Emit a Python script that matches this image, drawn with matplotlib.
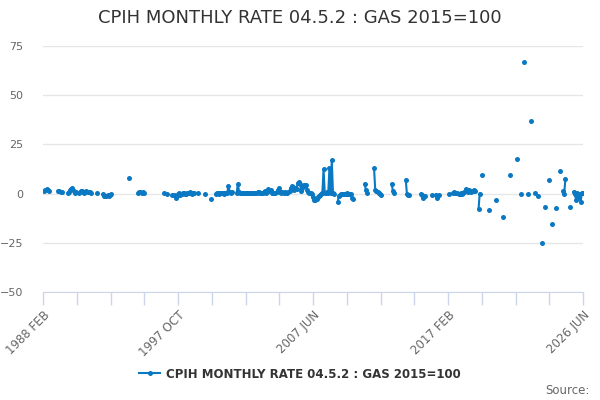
import numpy as np
import matplotlib
matplotlib.use("Agg")
import matplotlib.pyplot as plt

title = "CPIH MONTHLY RATE 04.5.2 : GAS 2015=100"
tick_labels = ["1988 FEB", "1997 OCT", "2007 JUN", "2017 FEB", "2026 JUN"]
n_periods = 461

# runs of consecutive periods: (first period index, monthly rates)
seg_start = [1, 13, 21, 31, 46, 51, 73, 81, 103, 106, 110, 112,
             132, 138, 143, 147, 165, 251, 274, 282, 297, 309,
             322, 331, 335, 346, 349, 371, 374, 380, 386, 392,
             398, 404, 407, 410, 413, 416, 419, 422, 425, 428,
             431, 434, 437, 440, 443, 449, 452]
seg_values = [
    [1.5, 1.8, 2.2, 1.8, 1.2],
    [1.2, 1.5, 1.0, 0.8],
    [0.3, 1.0, 1.8, 2.5, 3.0, 1.2, 0.5, 0.8],
    [0.5, 1.5, 1.2, 0.8, 0.5, 1.0, 1.2, 0.8, 1.0, 0.6, 0.4],
    [0.3],
    [-0.3, -1.0, -1.2, -1.0, -0.8, -1.0, -0.6, -0.3],
    [8.0],
    [0.5, 0.8, 1.0, 0.5, 0.7, 0.3],
    [0.2],
    [0.0],
    [-0.8],
    [-0.5, -2.0, -1.2, 0.0, 0.3, -0.5, 0.0, 0.3, 0.5, 0.0, -0.3, 0.2,
     0.5, 0.8, 0.3, 0.0, 0.5, 0.2],
    [0.5],
    [0.0],
    [-2.5],
    [0.0, 0.3, 0.5, 0.0, 0.2, 0.5, 0.3, 0.0, 0.5, 0.2, 0.5,
     4.0, 1.0, 0.5, 0.8],
    [0.5, 5.0, 1.0, 0.5, 0.5, 0.3, 0.5, 0.5, 0.3, 0.5, 0.5, 0.3, 0.2,
     0.5, 0.5, 0.3, 0.5,
     0.5, 1.0, 0.8, 0.5, 0.3, 0.5, 1.0, 1.5, 0.5, 0.8, 2.5, 1.5, 2.0, 0.5,
     0.5, 0.3, 0.5, 1.0, 2.0, 3.0, 1.0, 0.5, 0.8, 0.5, 1.0, 0.5, 0.5, 0.8,
     1.5, 3.0, 4.0, 3.5, 2.0, 3.0, 2.5, 5.5, 6.0, 5.0, 1.5, 3.0, 4.5, 4.0, 4.5,
     2.0, 1.0, 0.5, 0.5, 0.0, -1.5, -3.0, -3.0, -2.5, -1.5, -1.0, -0.5, 0.0, 0.5,
     12.5, 0.5, 0.5, 1.0, 0.5, 13.0, 0.5, 17.0, 0.5, 0.0],
    [-4.5, -1.0, -0.5, 0.0, -0.3, 0.0, 0.0, 0.0, 0.2, 0.0, 0.0, 0.0, -2.0, -2.5],
    [5.0, 2.0, 0.5],
    [13.0, 2.0, 1.5, 1.0, 0.5, 0.0, -0.5],
    [5.0, 1.5, 0.5],
    [7.0, 0.0, -0.5, -0.5],
    [0.0, -0.5, -2.0, -1.0],
    [-0.8],
    [-0.5, -2.0, -0.8],
    [-0.3],
    [0.5, 0.8, 0.5, 0.3, 0.5, 0.0, 0.0, 0.2, 0.0, 0.5, 1.0, 2.5, 1.5, 1.0,
     2.0, 1.5, 1.0, 1.5, 2.0, 1.5],
    [-8.0, 0.0],
    [9.5],
    [-8.5],
    [-3.0],
    [-12.0],
    [9.5],
    [17.5],
    [0.0],
    [67.0],
    [0.0],
    [37.0],
    [0.5],
    [-1.0],
    [-25.0],
    [-7.0],
    [7.0],
    [-15.5],
    [-7.5],
    [11.5],
    [1.5, 0.0, 7.5],
    [-7.0],
    [1.0, 0.0, -3.0, 0.5, -2.0, 0.0, -4.5, 0.5, 0.5],
]

rate = np.full(n_periods, np.nan)
for s, vals in zip(seg_start, seg_values):
    rate[s:s + len(vals)] = vals
x = np.arange(n_periods)

blue = "#0a78c2"
fig = plt.figure(figsize=(6, 4), dpi=100)
ax = fig.add_axes([43 / 600, 108 / 400, 540 / 600, 246 / 400])

ax.plot(x, rate, color=blue, lw=1.5, marker="o", ms=3.6, mew=0,
        label=title, zorder=3)

ax.set_xlim(0, n_periods - 1)
ax.set_ylim(-50, 75)
ax.set_yticks([-50, -25, 0, 25, 50, 75])
ax.grid(axis="y", color="#e6e6e6", lw=1)
ax.set_axisbelow(True)

major = np.linspace(0, n_periods - 1, 5)
ax.set_xticks(major)
ax.set_xticklabels(tick_labels, rotation=45, ha="right", rotation_mode="anchor")
ax.set_xticks(np.linspace(0, n_periods - 1, 17), minor=True)
ax.tick_params(axis="x", which="both", length=9, width=1, color="#ccd6eb",
               labelsize=8.5, labelcolor="#666666", pad=3)
ax.tick_params(axis="y", length=0, labelsize=8, labelcolor="#666666", pad=14)

for side in ["top", "right", "left"]:
    ax.spines[side].set_visible(False)
ax.spines["bottom"].set_color("#ccd6eb")

fig.text(0.5, 1 - 18 / 400, title, ha="center", va="center",
         fontsize=13, color="#333333")
fig.legend(loc="center", bbox_to_anchor=(0.5, 1 - 374 / 400), frameon=False,
           prop={"size": 8.5, "weight": "bold"}, labelcolor="#333333",
           handlelength=1.8, handletextpad=0.5)
fig.text(590 / 600, 1 - 390 / 400, "Source:", ha="right", va="center",
         fontsize=8.5, color="#666666")

fig.savefig("out.png", dpi=100)
